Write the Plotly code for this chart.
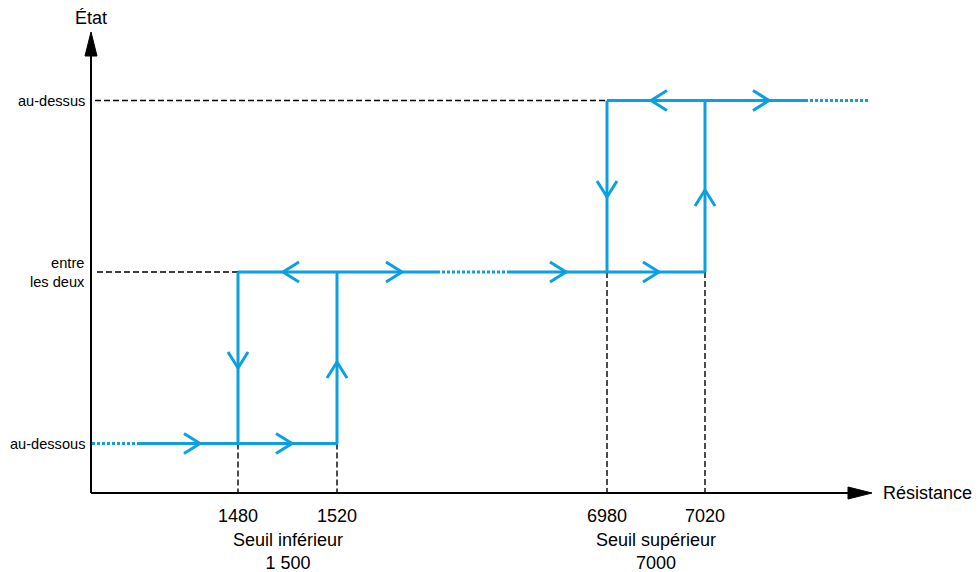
import plotly.graph_objects as go

# ---- data ----
state_labels = ["au-dessous", "entre<br>les deux", "au-dessus"]
state_levels = [0, 1, 2]
threshold_labels = ["1480", "1520", "6980", "7020"]
threshold_x = [238, 337, 607, 705]          # schematic positions on the resistance axis
seuil_labels = ["Seuil inférieur<br>1 500", "Seuil supérieur<br>7000"]
x_title = "Résistance"
y_title = "État"

BLUE = "#0AA0E2"
W, H = 980, 572
OFF = 8  # default page margin around the plot div
PX_PER_LEVEL = 171.5
Y0_PX = 443.5


def lv(p):
    """pixel row -> state level (for layout geometry only)"""
    return (Y0_PX - p) / PX_PER_LEVEL


AX_X = 91
AX_Y = lv(493)

fig = go.Figure()

# solid transition paths
xa, xb, xc, xd = threshold_x
solid_segments = [
    ((140, 0), (xb, 0)),
    ((xa, 0), (xa, 1)),
    ((xb, 0), (xb, 1)),
    ((xa, 1), (437, 1)),
    ((508, 1), (xd, 1)),
    ((xc, 1), (xc, 2)),
    ((xd, 1), (xd, 2)),
    ((xc, 2), (805, 2)),
]
sx, sy = [], []
for (x0, y0), (x1, y1) in solid_segments:
    sx += [x0, x1, None]
    sy += [y0, y1, None]
fig.add_trace(go.Scatter(x=sx, y=sy, mode="lines",
                         line=dict(color=BLUE, width=3), hoverinfo="skip"))

dotted_segments = [((AX_X + 1, 0), (140, 0)), ((437, 1), (508, 1)), ((805, 2), (868, 2))]
dx, dy = [], []
for (x0, y0), (x1, y1) in dotted_segments:
    dx += [x0, x1, None]
    dy += [y0, y1, None]
fig.add_trace(go.Scatter(x=dx, y=dy, mode="lines",
                         line=dict(color=BLUE, width=3, dash="3px,2px"), hoverinfo="skip"))

# chevron arrowheads (tip x, tip level, direction)
chevrons = [
    (200, 0, "R"), (292, 0, "R"),
    (xa, lv(368), "D"), (xb, lv(362), "U"),
    (283, 1, "L"), (402, 1, "R"), (566, 1, "R"), (659, 1, "R"),
    (xc, lv(197), "D"), (xd, lv(190), "U"),
    (651, 2, "L"), (769, 2, "R"),
]
L, HW = 16, 10
cx, cy = [], []
for tx, ty, d in chevrons:
    if d == "R":
        pts = [(tx - L, ty + HW / PX_PER_LEVEL), (tx, ty), (tx - L, ty - HW / PX_PER_LEVEL)]
    elif d == "L":
        pts = [(tx + L, ty + HW / PX_PER_LEVEL), (tx, ty), (tx + L, ty - HW / PX_PER_LEVEL)]
    elif d == "D":
        pts = [(tx - HW, ty + L / PX_PER_LEVEL), (tx, ty), (tx + HW, ty + L / PX_PER_LEVEL)]
    else:
        pts = [(tx - HW, ty - L / PX_PER_LEVEL), (tx, ty), (tx + HW, ty - L / PX_PER_LEVEL)]
    for px_, py_ in pts:
        cx.append(px_)
        cy.append(py_)
    cx.append(None)
    cy.append(None)
fig.add_trace(go.Scatter(x=cx, y=cy, mode="lines",
                         line=dict(color=BLUE, width=3), hoverinfo="skip"))

# dashed black guide lines
dash_style = dict(color="black", width=1.4, dash="6px,3px")
guides = [
    ((95, 2), (xc, 2)),
    ((97, 1), (xa, 1)),
    ((xa, 0), (xa, AX_Y)),
    ((xb, 0), (xb, AX_Y)),
    ((xc, 1), (xc, AX_Y)),
    ((xd, 1), (xd, AX_Y)),
]
for (x0, y0), (x1, y1) in guides:
    fig.add_shape(type="line", x0=x0, y0=y0, x1=x1, y1=y1, line=dash_style, layer="below")

# axes with arrowheads
fig.add_shape(type="line", x0=AX_X, y0=AX_Y, x1=AX_X, y1=lv(52), line=dict(color="black", width=2))
fig.add_shape(type="line", x0=AX_X, y0=AX_Y, x1=852, y1=AX_Y, line=dict(color="black", width=2))
fig.add_shape(type="path",
              path=f"M {AX_X-6} {lv(56)} L {AX_X} {lv(32)} L {AX_X+6} {lv(56)} Z",
              fillcolor="black", line=dict(color="black", width=1))
fig.add_shape(type="path",
              path=f"M 848 {lv(487)} L 872 {AX_Y} L 848 {lv(499)} Z",
              fillcolor="black", line=dict(color="black", width=1))

FONT = "Liberation Sans, Arial, sans-serif"

# state labels
for lab, lev in zip(state_labels, state_levels):
    fig.add_annotation(x=86, y=lev, text=lab, showarrow=False, xanchor="right", yanchor="middle",
                       align="right", borderpad=0,
                       font=dict(family=FONT, size=14.6, color="black"))

# threshold tick labels
for lab, xv in zip(threshold_labels, threshold_x):
    fig.add_annotation(x=xv, y=lv(516), text=lab, showarrow=False, xanchor="center", yanchor="middle",
                       font=dict(family=FONT, size=18, color="black"))

for lab, (x0, x1) in zip(seuil_labels, [(xa, xb), (xc, xd)]):
    fig.add_annotation(x=(x0 + x1) / 2, y=lv(551), text=lab, showarrow=False, xanchor="center",
                       yanchor="middle", font=dict(family=FONT, size=18, color="black"))

fig.add_annotation(x=AX_X, y=lv(18), text=y_title, showarrow=False, xanchor="center", yanchor="middle",
                   font=dict(family=FONT, size=18, color="black"))
fig.add_annotation(x=881, y=AX_Y, text=x_title, showarrow=False, xanchor="left", yanchor="middle",
                   font=dict(family=FONT, size=18, color="black"))

fig.update_layout(
    width=W - OFF, height=H - OFF,
    margin=dict(l=0, r=0, t=0, b=0),
    plot_bgcolor="white", paper_bgcolor="white",
    showlegend=False,
    xaxis=dict(range=[OFF, W], visible=False, fixedrange=True),
    yaxis=dict(range=[lv(H), lv(OFF)], visible=False, fixedrange=True),
)

fig.write_html("out.html")
